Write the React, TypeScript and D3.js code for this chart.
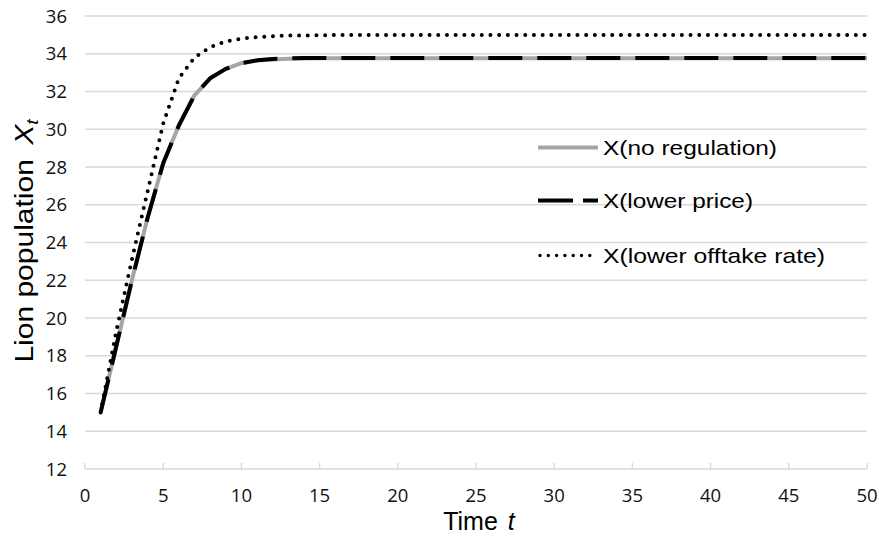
import React from "react";
import * as d3 from "d3";

const times = [1,2,3,4,5,6,7,8,9,10,11,12,13,14,15,16,17,18,19,20,21,22,23,24,25,26,27,28,29,30,31,32,33,34,35,36,37,38,39,40,41,42,43,44,45,46,47,48,49,50];

const noRegulation = [15,18.5,22.0,25.3,28.2,30.2,31.8,32.7,33.2,33.5,33.64,33.7,33.73,33.75,33.76,33.76,33.76,33.76,33.76,33.76,33.76,33.76,33.76,33.76,33.76,33.76,33.76,33.76,33.76,33.76,33.76,33.76,33.76,33.76,33.76,33.76,33.76,33.76,33.76,33.76,33.76,33.76,33.76,33.76,33.76,33.76,33.76,33.76,33.76,33.76];

const lowerPrice = [15,18.5,22.0,25.3,28.2,30.2,31.8,32.7,33.2,33.5,33.65,33.72,33.75,33.77,33.78,33.78,33.78,33.78,33.78,33.78,33.78,33.78,33.78,33.78,33.78,33.78,33.78,33.78,33.78,33.78,33.78,33.78,33.78,33.78,33.78,33.78,33.78,33.78,33.78,33.78,33.78,33.78,33.78,33.78,33.78,33.78,33.78,33.78,33.78,33.78];

const lowerOfftake = [15,19.3,23.1,26.7,30.3,32.7,33.8,34.35,34.65,34.8,34.88,34.93,34.96,34.97,34.98,34.99,34.99,35,35,35,35,35,35,35,35,35,35,35,35,35,35,35,35,35,35,35,35,35,35,35,35,35,35,35,35,35,35,35,35,35];

const xTicks = [0,5,10,15,20,25,30,35,40,45,50];
const yTicks = [12,14,16,18,20,22,24,26,28,30,32,34,36];

const legendLabels = ["X(no regulation)", "X(lower price)", "X(lower offtake rate)"];

export default function App() {
  const x = d3.scaleLinear().domain([0, 50]).range([85, 867]);
  const y = d3.scaleLinear().domain([12, 36]).range([469, 16]);

  const line = (vals: number[]) =>
    d3.line<number>().x((_, i) => x(times[i])).y((v) => y(v))(vals) || "";

  const tickFont = "'Open Sans', 'Liberation Sans', Arial, sans-serif";
  const textFont = "'Liberation Sans', Arial, Helvetica, sans-serif";
  const grid = "#d9d9d9";

  const legendY = [147.5, 200.5, 255.5];
  const legendTextW = [174, 150, 222];

  return (
    <svg width={879} height={537} style={{ position: "absolute", left: 0, top: 0, background: "#fff" }}>
      {/* gridlines */}
      {yTicks.map((t) => (
        <line key={"g" + t} x1={x(0)} x2={x(50)} y1={y(t)} y2={y(t)} stroke={grid} strokeWidth={1.4} />
      ))}
      {/* x tick marks */}
      {xTicks.map((t) => (
        <line key={"xt" + t} x1={x(t)} x2={x(t)} y1={y(12)} y2={y(12) - 6} stroke={grid} strokeWidth={1.4} />
      ))}
      {/* y tick labels */}
      {yTicks.map((t) => (
        <text key={"yl" + t} x={67} y={y(t) + 6.5} textAnchor="end" fontFamily={tickFont} fontSize={18.5} fill="#111">
          {t}
        </text>
      ))}
      {/* x tick labels */}
      {xTicks.map((t) => (
        <text key={"xl" + t} x={x(t)} y={502} textAnchor="middle" fontFamily={tickFont} fontSize={18.5} fill="#111">
          {t}
        </text>
      ))}

      {/* series */}
      <path d={line(noRegulation)} fill="none" stroke="#a5a5a5" strokeWidth={4} strokeLinejoin="round" />
      <path d={line(lowerPrice)} fill="none" stroke="#000" strokeWidth={4} strokeDasharray="34 15" strokeLinejoin="round" />
      <path d={line(lowerOfftake)} fill="none" stroke="#000" strokeWidth={4} strokeDasharray="0 8.7" strokeLinecap="round" />

      {/* legend */}
      <line x1={538} x2={598} y1={legendY[0]} y2={legendY[0]} stroke="#a5a5a5" strokeWidth={4} />
      <line x1={538} x2={598} y1={legendY[1]} y2={legendY[1]} stroke="#000" strokeWidth={4} strokeDasharray="35 10" />
      <line x1={540} x2={598} y1={legendY[2]} y2={legendY[2]} stroke="#000" strokeWidth={3.4} strokeDasharray="0 8.3" strokeLinecap="round" />
      {legendLabels.map((l, i) => (
        <text key={l} x={603} y={legendY[i] + 7.5} fontFamily={textFont} fontSize={21} fill="#000"
          textLength={legendTextW[i]} lengthAdjust="spacingAndGlyphs">
          {l}
        </text>
      ))}

      {/* y axis title */}
      <text transform="translate(33,241) rotate(-90) scale(1.2,1)" textAnchor="middle" fontFamily={textFont} fontSize={25} fill="#000">
        <tspan>Lion population</tspan>
        <tspan dx={12} fontStyle="italic">X</tspan>
        <tspan fontStyle="italic" fontSize={16} dy={5}>t</tspan>
      </text>

      {/* x axis title */}
      <text x={479} y={530} textAnchor="middle" fontFamily={textFont} fontSize={25} fill="#000">
        <tspan>Time</tspan>
        <tspan dx={10} fontStyle="italic">t</tspan>
      </text>
    </svg>
  );
}
